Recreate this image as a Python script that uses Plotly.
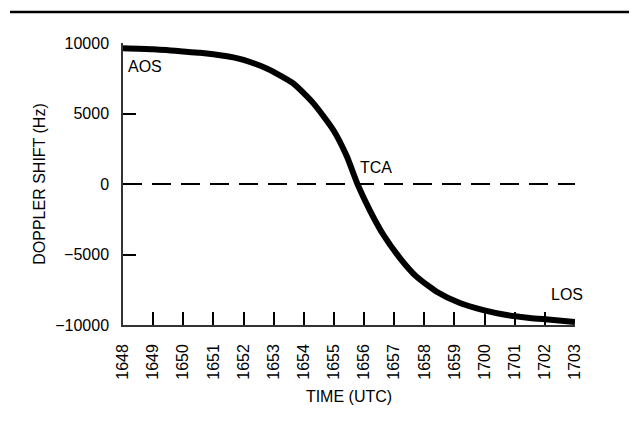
import plotly.graph_objects as go

# Data
minutes = [0, 1, 2, 2.56, 3, 3.66, 4, 4.77, 5, 5.65, 6.32, 6.98, 7.42, 7.8, 8.2, 8.64,
           9.19, 9.74, 10.41, 11.18, 11.96, 12.73, 13.5, 14.2, 15]
doppler_hz = [9620, 9550, 9400, 9310, 9200, 8980, 8800, 8200, 7950, 7140, 5720, 3830, 2000,
              -100, -1900, -3600, -5250, -6570, -7640, -8440, -8940, -9290, -9500, -9620, -9790]
tick_minutes = list(range(16))
time_labels = ["1648", "1649", "1650", "1651", "1652", "1653", "1654", "1655", "1656",
               "1657", "1658", "1659", "1700", "1701", "1702", "1703"]
y_ticks = [-10000, -5000, 0, 5000, 10000]
y_labels = ["\u221210000", "\u22125000", "0", "5000", "10000"]

FONT = "Liberation Sans, Arial, sans-serif"

fig = go.Figure()
fig.add_trace(go.Scatter(x=[0, 15], y=[0, 0], mode="lines",
                         line=dict(color="black", width=2, dash="19px,10px"),
                         hoverinfo="skip", showlegend=False))
fig.add_trace(go.Scatter(x=minutes, y=doppler_hz, mode="lines",
                         line=dict(color="black", width=6, shape="spline", smoothing=0.6),
                         showlegend=False))

fig.update_layout(
    width=629, height=415,
    margin=dict(l=115, r=62, t=35, b=98, autoexpand=False),
    paper_bgcolor="white", plot_bgcolor="white",
    font=dict(family=FONT, size=16, color="black"),
    xaxis=dict(range=[0, 15], tickvals=tick_minutes, ticktext=time_labels,
               tickangle=-90, ticks="inside", ticklen=13, tickwidth=1.5, tickcolor="black",
               ticklabelstandoff=11, automargin=False,
               showline=True, linecolor="#333", linewidth=1.5, showgrid=False, zeroline=False,
               tickfont=dict(size=16), title=dict(text="TIME (UTC)", standoff=12,
                                                   font=dict(size=16))),
    yaxis=dict(range=[-10000, 10000], tickvals=y_ticks, ticktext=y_labels,
               ticks="inside", ticklen=13, tickwidth=1.5, tickcolor="black",
               ticklabelstandoff=9, automargin=False,
               showline=True, linecolor="#333", linewidth=1.5, showgrid=False, zeroline=False,
               tickfont=dict(size=16), title=dict(text="DOPPLER SHIFT (Hz)", standoff=6,
                                                   font=dict(size=16))),
)

fig.add_annotation(x=0.73, y=8300, text="AOS", showarrow=False, font=dict(size=16))
fig.add_annotation(x=8.4, y=1200, text="TCA", showarrow=False, font=dict(size=16))
fig.add_annotation(x=14.74, y=-7870, text="LOS", showarrow=False, font=dict(size=16))

fig.add_shape(type="line", xref="paper", yref="paper", x0=-0.25, x1=1.14, y0=1.11, y1=1.11,
              line=dict(color="black", width=2.5))

fig.write_html("out.html")
